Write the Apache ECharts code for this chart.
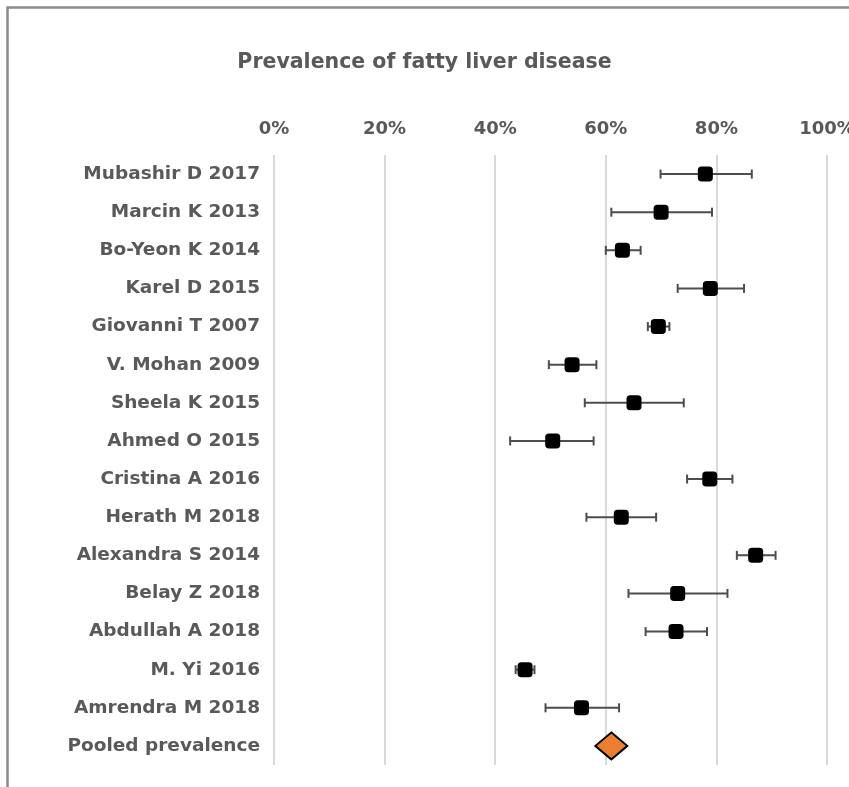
<!DOCTYPE html>
<html>
<head>
<meta charset="utf-8">
<script src="https://cdn.jsdelivr.net/npm/echarts@6/dist/echarts.min.js"></script>
<style>
  html, body { margin: 0; padding: 0; background: #fff; }
  #main { width: 849px; height: 787px; }
</style>
</head>
<body>
<div id="main"></div>
<script>
// studies, top to bottom
var studies = ['Mubashir D 2017', 'Marcin K 2013', 'Bo-Yeon K 2014', 'Karel D 2015', 'Giovanni T 2007',
    'V. Mohan 2009', 'Sheela K 2015', 'Ahmed O 2015', 'Cristina A 2016', 'Herath M 2018',
    'Alexandra S 2014', 'Belay Z 2018', 'Abdullah A 2018', 'M. Yi 2016', 'Amrendra M 2018'];
var pooledLabel = 'Pooled prevalence';

// prevalence (%) with 95% CI
var prevalence = [78.0, 70.0, 63.0, 78.9, 69.5, 53.9, 65.1, 50.4, 78.8, 62.8, 87.1, 73.0, 72.7, 45.4, 55.6];
var lower      = [69.9, 61.0, 60.0, 73.0, 67.6, 49.7, 56.2, 42.7, 74.7, 56.5, 83.7, 64.1, 67.2, 43.7, 49.1];
var upper      = [86.4, 79.2, 66.3, 85.0, 71.5, 58.3, 74.1, 57.8, 82.9, 69.1, 90.7, 82.0, 78.3, 47.1, 62.4];
var pooled = 61.0;

var xTicks = [0, 20, 40, 60, 80, 100];

var categories = studies.concat([pooledLabel]);

var dom = document.getElementById('main');
var myChart = echarts.init(dom);

var pointData = prevalence.map(function (v, i) { return [v, i]; });
var errData = lower.map(function (lo, i) { return [lo, upper[i], i]; });

var txt = '#595959';
var font = '"DejaVu Sans", sans-serif';

var option = {
    animation: false,
    backgroundColor: '#fff',
    title: {
        text: 'Prevalence of fatty liver disease',
        left: 'center',
        top: 47,
        textStyle: { color: txt, fontSize: 20.5, fontWeight: 'bold', fontFamily: font }
    },
    graphic: [{
        type: 'rect',
        shape: { x: 7.5, y: 7.5, width: 900, height: 900 },
        style: { fill: 'none', stroke: '#8c8c8c', lineWidth: 2.5 },
        z: 0
    }],
    grid: { left: 274, right: 22, top: 155, bottom: 22, outerBoundsMode: 'none' },
    xAxis: {
        type: 'value',
        position: 'top',
        min: xTicks[0],
        max: xTicks[xTicks.length - 1],
        interval: 20,
        axisLine: { show: false },
        axisTick: { show: false },
        axisLabel: {
            formatter: '{value}%',
            color: txt, fontSize: 18, fontWeight: 'bold', fontFamily: font,
            margin: 17
        },
        splitLine: { lineStyle: { color: '#d9d9d9', width: 2 } }
    },
    yAxis: {
        type: 'category',
        data: categories,
        inverse: true,
        axisLine: { show: false },
        axisTick: { show: false },
        splitLine: { show: false },
        axisLabel: {
            color: txt, fontSize: 18.5, fontWeight: 'bold', fontFamily: font,
            margin: 14
        }
    },
    series: [
        {
            type: 'custom',
            name: 'CI',
            data: errData,
            encode: { x: [0, 1], y: 2 },
            renderItem: function (params, api) {
                var a = api.coord([api.value(0), api.value(2)]);
                var b = api.coord([api.value(1), api.value(2)]);
                var h = 4.5;
                var st = { stroke: '#4d4d4d', lineWidth: 2 };
                return {
                    type: 'group',
                    children: [
                        { type: 'line', shape: { x1: a[0], y1: a[1], x2: b[0], y2: b[1] }, style: st },
                        { type: 'line', shape: { x1: a[0], y1: a[1] - h, x2: a[0], y2: a[1] + h }, style: st },
                        { type: 'line', shape: { x1: b[0], y1: b[1] - h, x2: b[0], y2: b[1] + h }, style: st }
                    ]
                };
            },
            z: 2
        },
        {
            type: 'scatter',
            name: 'Prevalence',
            data: pointData,
            symbol: 'roundRect',
            symbolSize: 15,
            itemStyle: { color: '#000', opacity: 1 },
            z: 3
        },
        {
            type: 'scatter',
            name: 'Pooled',
            data: [[pooled, categories.length - 1]],
            symbol: 'diamond',
            symbolSize: [32, 27],
            itemStyle: { color: '#ED7D31', borderColor: '#000', borderWidth: 2, opacity: 1 },
            z: 3
        }
    ]
};

myChart.setOption(option, true);
</script>
</body>
</html>
